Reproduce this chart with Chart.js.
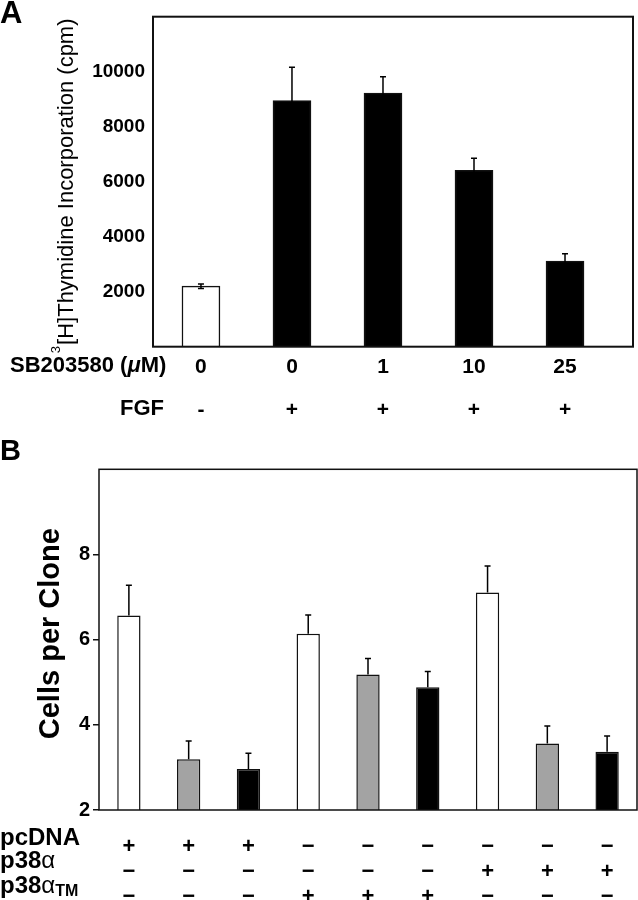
<!DOCTYPE html>
<html>
<head>
<meta charset="utf-8">
<script src="https://cdn.jsdelivr.net/npm/chart.js@4.4.0/dist/chart.umd.min.js"></script>
<style>
  body { margin: 0; background: #fff; }
  .panel { position: relative; width: 638px; }
  #panelA { height: 440px; }
  #panelB { height: 460px; }
  canvas { display: block; }
</style>
</head>
<body>
<div class="panel" id="panelA"><canvas id="chartA" width="638" height="440"></canvas></div>
<div class="panel" id="panelB"><canvas id="chartB" width="638" height="460"></canvas></div>
<script>
// ------ Panel A data ------
var doseLabels = ['0', '0', '1', '10', '25'];
var fgfLabels = ['-', '+', '+', '+', '+'];
var thymidine = [2200, 8950, 9220, 6410, 3110];
var thymidineErr = [80, 1210, 600, 440, 270];
var yTicksA = [2000, 4000, 6000, 8000, 10000];

// ------ Panel B data ------
var pcdnaRow = ['+', '+', '+', '\u2212', '\u2212', '\u2212', '\u2212', '\u2212', '\u2212'];
var p38aRow = ['\u2212', '\u2212', '\u2212', '\u2212', '\u2212', '\u2212', '+', '+', '+'];
var p38tmRow = ['\u2212', '\u2212', '\u2212', '+', '+', '+', '\u2212', '\u2212', '\u2212'];
var cellsPerClone = [6.57, 3.19, 2.96, 6.14, 5.18, 4.88, 7.11, 3.56, 3.37];
var cellsErr = [0.71, 0.43, 0.37, 0.44, 0.38, 0.37, 0.62, 0.41, 0.37];
var yTicksB = [2, 4, 6, 8];

var FONT = '"Liberation Sans", Arial, Helvetica, sans-serif';
var INK = '#111';
Chart.defaults.font.family = FONT;
Chart.defaults.color = '#000';

var barColorsA = ['#ffffff', '#000000', '#000000', '#000000', '#000000'];
var barColorsB = ['#ffffff', '#a3a3a3', '#000000', '#ffffff', '#a3a3a3', '#000000', '#ffffff', '#a3a3a3', '#000000'];

function errorBars(values, errors, both, cap) {
  return {
    id: 'errorBars',
    afterDatasetsDraw: function (chart) {
      var ctx = chart.ctx;
      var yScale = chart.scales.y;
      var meta = chart.getDatasetMeta(0);
      ctx.save();
      ctx.strokeStyle = '#000';
      ctx.lineWidth = 1.5;
      meta.data.forEach(function (bar, i) {
        var top = yScale.getPixelForValue(values[i] + errors[i]);
        var bottom = both ? yScale.getPixelForValue(values[i] - errors[i]) : bar.y;
        ctx.beginPath();
        ctx.moveTo(bar.x, top);
        ctx.lineTo(bar.x, bottom);
        ctx.moveTo(bar.x - cap, top);
        ctx.lineTo(bar.x + cap, top);
        if (both) {
          ctx.moveTo(bar.x - cap, bottom);
          ctx.lineTo(bar.x + cap, bottom);
        }
        ctx.stroke();
      });
      ctx.restore();
    }
  };
}

function frame(width) {
  return {
    id: 'frame',
    afterDatasetsDraw: function (chart) {
      var a = chart.chartArea;
      var ctx = chart.ctx;
      ctx.save();
      ctx.strokeStyle = INK;
      ctx.lineWidth = width;
      ctx.strokeRect(a.left, a.top, a.right - a.left, a.bottom - a.top);
      ctx.restore();
    }
  };
}

// draws pieces of text one after the other, each with its own font / offset
function drawPieces(ctx, pieces, x, y, align) {
  var total = 0;
  pieces.forEach(function (p) {
    ctx.font = p.font;
    total += ctx.measureText(p.text).width;
  });
  var cx = align === 'right' ? x - total : x;
  pieces.forEach(function (p) {
    ctx.font = p.font;
    ctx.fillText(p.text, cx, y + (p.dy || 0));
    cx += ctx.measureText(p.text).width;
  });
}

// ------ Chart A ------
var textA = {
  id: 'textA',
  afterDraw: function (chart) {
    var ctx = chart.ctx;
    var a = chart.chartArea;
    ctx.save();
    ctx.fillStyle = '#000';
    ctx.textBaseline = 'middle';
    ctx.textAlign = 'left';
    ctx.font = 'bold 31px ' + FONT;
    ctx.fillText('A', 0, 14);

    // row labels under the axis
    drawPieces(ctx, [
      { text: 'SB203580 (', font: 'bold 22px ' + FONT },
      { text: '\u03bc', font: 'italic bold 22px ' + FONT },
      { text: 'M)', font: 'bold 22px ' + FONT }
    ], 10, 366, 'left');
    drawPieces(ctx, [{ text: 'FGF', font: 'bold 22px ' + FONT }], 164, 409, 'right');

    // y title with superscript 3
    ctx.translate(67, (a.top + a.bottom) / 2);
    ctx.rotate(-Math.PI / 2);
    ctx.font = '22px ' + FONT;
    var main = '[H]Thymidine Incorporation (cpm)';
    var w = ctx.measureText(main).width;
    ctx.fillText(main, -w / 2, 0);
    ctx.font = '13px ' + FONT;
    var sw = ctx.measureText('3').width;
    ctx.fillText('3', -w / 2 - sw - 1, -11);
    ctx.restore();
  }
};

new Chart('chartA', {
  type: 'bar',
  data: {
    datasets: [{
      data: thymidine.map(function (v, i) { return { x: i, y: v }; }),
      backgroundColor: barColorsA,
      borderColor: INK,
      borderWidth: 1.5,
      barThickness: 38
    }]
  },
  options: {
    responsive: false,
    animation: false,
    layout: { padding: { top: 16.7, right: 5, left: 0, bottom: 0 } },
    plugins: { legend: { display: false }, tooltip: { enabled: false } },
    scales: {
      x: {
        type: 'linear',
        offset: false,
        min: -0.527,
        max: 4.747,
        grid: { display: false },
        border: { display: false },
        afterBuildTicks: function (scale) {
          scale.ticks = doseLabels.map(function (d, i) { return { value: i }; });
        },
        afterFit: function (scale) { scale.height = 93.3; },
        ticks: {
          autoSkip: false,
          maxRotation: 0,
          padding: -9,
          color: '#000',
          font: { size: 21, weight: 'bold', lineHeight: 2.05 },
          callback: function (v) { return [doseLabels[v], fgfLabels[v]]; }
        }
      },
      y: {
        min: 0,
        max: 12000,
        grid: { display: false },
        border: { display: false },
        afterBuildTicks: function (scale) {
          scale.ticks = yTicksA.map(function (v) { return { value: v }; });
        },
        afterFit: function (scale) { scale.width = 153; },
        ticks: {
          padding: 0,
          color: '#000',
          font: { size: 19, weight: 'bold' },
          callback: function (v) { return String(v); }
        }
      }
    }
  },
  plugins: [errorBars(thymidine, thymidineErr, true, 3), frame(2), textA]
});

// ------ Chart B ------
var textB = {
  id: 'textB',
  afterDraw: function (chart) {
    var ctx = chart.ctx;
    var a = chart.chartArea;
    ctx.save();
    ctx.fillStyle = '#000';
    ctx.textBaseline = 'middle';
    ctx.textAlign = 'left';
    ctx.font = 'bold 29px ' + FONT;
    ctx.fillText('B', 0, 12);

    drawPieces(ctx, [{ text: 'pcDNA', font: 'bold 24px ' + FONT }], 0, 398, 'left');
    drawPieces(ctx, [
      { text: 'p38', font: 'bold 24px ' + FONT },
      { text: '\u03b1', font: '24px ' + FONT }
    ], 0, 421, 'left');
    drawPieces(ctx, [
      { text: 'p38', font: 'bold 24px ' + FONT },
      { text: '\u03b1', font: '24px ' + FONT },
      { text: 'TM', font: 'bold 16px ' + FONT, dy: 6 }
    ], 0, 446, 'left');

    ctx.translate(51, (a.top + a.bottom) / 2 - 6);
    ctx.rotate(-Math.PI / 2);
    ctx.textAlign = 'center';
    ctx.font = 'bold 29px ' + FONT;
    ctx.fillText('Cells per Clone', 0, 0);
    ctx.restore();
  }
};

new Chart('chartB', {
  type: 'bar',
  data: {
    labels: pcdnaRow.map(function (p, i) { return [p, p38aRow[i], p38tmRow[i]]; }),
    datasets: [{
      data: cellsPerClone,
      backgroundColor: barColorsB,
      borderColor: INK,
      borderWidth: 1.5,
      barPercentage: 0.39,
      categoryPercentage: 1
    }]
  },
  options: {
    responsive: false,
    animation: false,
    layout: { padding: { top: 29.3, right: 1, left: 0, bottom: 0 } },
    plugins: { legend: { display: false }, tooltip: { enabled: false } },
    scales: {
      x: {
        grid: { display: false },
        border: { display: false },
        afterFit: function (scale) { scale.height = 90; },
        ticks: {
          autoSkip: false,
          maxRotation: 0,
          padding: 17,
          color: '#000',
          font: { size: 22, weight: 'bold', lineHeight: 1.12 }
        }
      },
      y: {
        min: 2,
        max: 10,
        grid: { display: true, drawOnChartArea: false, drawTicks: true, tickLength: 6, color: INK, lineWidth: 1.5 },
        border: { display: false },
        afterBuildTicks: function (scale) {
          scale.ticks = yTicksB.map(function (v) { return { value: v }; });
        },
        afterFit: function (scale) { scale.width = 99; },
        ticks: {
          padding: 3,
          color: '#000',
          font: { size: 20, weight: 'bold' },
          callback: function (v) { return String(v); }
        }
      }
    }
  },
  plugins: [errorBars(cellsPerClone, cellsErr, false, 3), frame(1.5), textB]
});
</script>
</body>
</html>
